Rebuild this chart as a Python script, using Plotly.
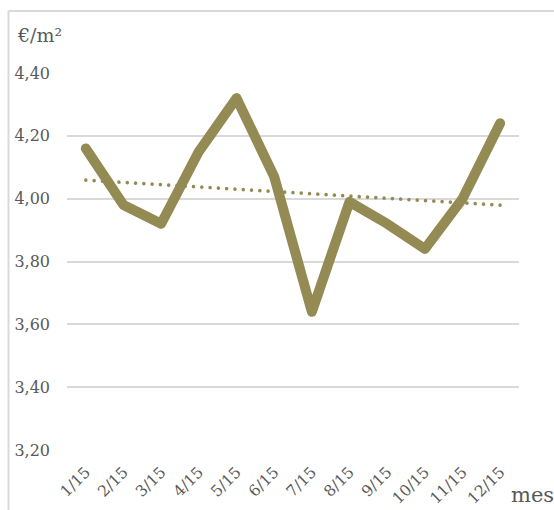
import numpy as np
import plotly.graph_objects as go

# Monthly average price per square metre
months = ["1/15", "2/15", "3/15", "4/15", "5/15", "6/15",
          "7/15", "8/15", "9/15", "10/15", "11/15", "12/15"]
price = [4.16, 3.98, 3.92, 4.15, 4.32, 4.07, 3.64, 3.99, 3.92, 3.84, 4.00, 4.24]
y_ticks = [3.20, 3.40, 3.60, 3.80, 4.00, 4.20, 4.40]
y_tick_text = ["3,20", "3,40", "3,60", "3,80", "4,00", "4,20", "4,40"]

# Linear trend over the month index
idx = np.arange(len(price))
slope, intercept = np.polyfit(idx, price, 1)
trend = slope * idx + intercept

OLIVE = "#948A54"
GRID = "#D9D9D9"
TEXT = "#595959"
FONT = "DejaVu Serif"

W, H = 554, 510
ML, MR, MT, MB = 67, 35, 73, 60
pw, ph = W - ML - MR, H - MT - MB

def px_to_paper_x(px):
    return (px - ML) / pw

def px_to_paper_y(py):
    return (H - MB - py) / ph

fig = go.Figure()
fig.add_trace(go.Scatter(x=months, y=trend, mode="lines",
                         line=dict(color=OLIVE, width=3.6, dash="0px,8.3px"),
                         hoverinfo="skip", showlegend=False))
fig.add_trace(go.Scatter(x=months, y=price, mode="lines",
                         line=dict(color=OLIVE, width=10),
                         showlegend=False))

fig.update_layout(
    width=W, height=H,
    margin=dict(l=ML, r=MR, t=MT, b=MB, autoexpand=False),
    paper_bgcolor="white", plot_bgcolor="white",
    font=dict(family=FONT, color=TEXT),
    xaxis=dict(type="category", showgrid=False, zeroline=False, showline=False,
               automargin=False,
               tickangle=-45, tickfont=dict(size=15.5, color=TEXT, family=FONT),
               ticks="", ticklabelstandoff=9, range=[-0.5, len(months) - 0.5]),
    yaxis=dict(range=[3.2, 4.4], tickvals=y_ticks, ticktext=y_tick_text,
               automargin=False,
               showgrid=True, gridcolor=GRID, gridwidth=1.6, zeroline=False,
               showline=False, ticks="", ticklabelstandoff=16,
               tickfont=dict(size=16, color=TEXT, family=FONT)),
    shapes=[
        dict(type="line", xref="paper", yref="paper",
             x0=px_to_paper_x(8.5), x1=px_to_paper_x(8.5),
             y0=px_to_paper_y(H + 5), y1=px_to_paper_y(11),
             line=dict(color=GRID, width=2)),
        dict(type="line", xref="paper", yref="paper",
             x0=px_to_paper_x(8.5), x1=px_to_paper_x(W + 5),
             y0=px_to_paper_y(11), y1=px_to_paper_y(11),
             line=dict(color=GRID, width=2)),
    ],
    annotations=[
        dict(text="€/m²", xref="paper", yref="paper",
             x=px_to_paper_x(15), y=px_to_paper_y(35),
             xanchor="left", yanchor="middle", showarrow=False,
             font=dict(size=19, color=TEXT, family=FONT)),
        dict(text="mes", xref="paper", yref="paper",
             x=px_to_paper_x(556), y=px_to_paper_y(495),
             xanchor="right", yanchor="middle", showarrow=False,
             font=dict(size=21, color=TEXT, family=FONT)),
    ],
)

round_js = """
document.querySelectorAll('.scatterlayer path.js-line').forEach(function(p){
  p.style.strokeLinejoin = 'round';
  p.style.strokeLinecap = 'round';
});
"""
fig.write_html("out.html", post_script=round_js)
